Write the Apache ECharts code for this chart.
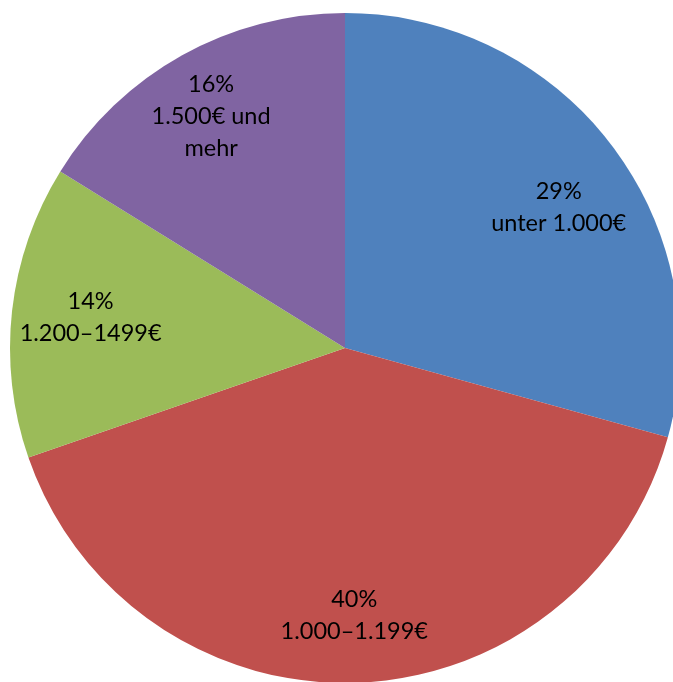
<!doctype html>
<html>
<head>
<meta charset="utf-8">
<title>Einkommen</title>
<script src="https://cdn.jsdelivr.net/npm/echarts@6/dist/echarts.min.js"></script>
<style>
    body{margin: 0;}
    #main{width: 673px;height: 682px;}
</style>
</head>
<body>
<div id="main"></div>
<script>
    // Anteile (Prozent) und Beschriftungen
    var categories = ['unter 1.000€', '1.000–1.199€', '1.200–1499€', '1.500€ und\nmehr'];
    var shares = [29, 40, 14, 16];
    var colors = ['#4F81BD', '#C0504D', '#9BBB59', '#8064A2'];

    var pieData = categories.map(function (name, i) {
        return { name: name, value: shares[i] };
    });

    // kleine Korrektur der Beschriftungsposition (wie im Original)
    var labelShift = [[6, 17], [1, 7], [5, -2], [-7, -4]];

    var myChart = echarts.init(document.getElementById('main'));
    var option = {
        animation: false,
        color: colors,
        series: [{
            type: 'pie',
            center: [345, 348],
            radius: [0, 335],
            startAngle: 90,
            clockwise: true,
            silent: true,
            label: {show: false},
            labelLine: {show: false},
            data: pieData
        },
        {
            // unsichtbarer Ring, nur für die Beschriftungen
            type: 'pie',
            center: [345, 348],
            radius: [180, 336],
            startAngle: 90,
            clockwise: true,
            silent: true,
            itemStyle: {color: 'rgba(0,0,0,0)'},
            label: {
                show: true,
                position: 'inside',
                color: '#000',
                fontFamily: 'Lato',
                fontSize: 23.5,
                lineHeight: 32,
                align: 'center',
                formatter: function (p) {
                    return p.value + '%\n' + p.name;
                }
            },
            labelLayout: function (p) {
                var s = labelShift[p.dataIndex];
                return {dx: s[0], dy: s[1]};
            },
            labelLine: {show: false},
            data: pieData
        }]
    };
    myChart.setOption(option);
</script>
</body>
</html>
